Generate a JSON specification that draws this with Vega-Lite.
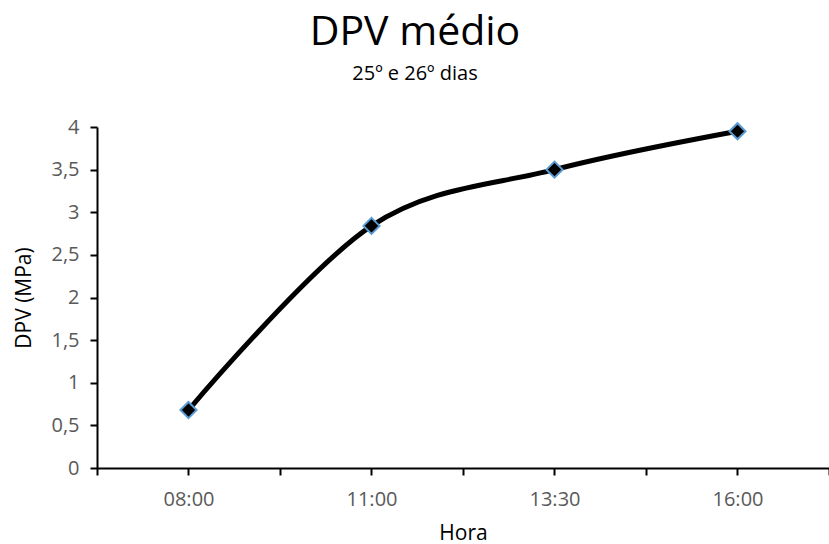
{
  "$schema": "https://vega.github.io/schema/vega-lite/v6.json",
  "autosize": {"type": "none"},
  "padding": {"left": 97, "top": 127, "right": 0, "bottom": 76},
  "width": 732,
  "height": 341,
  "background": "white",
  "title": {
    "text": "DPV médio",
    "subtitle": "25º e 26º dias",
    "anchor": "middle",
    "frame": "group",
    "dx": -48,
    "font": "Open Sans",
    "fontSize": 41,
    "fontWeight": "normal",
    "color": "black",
    "subtitleFont": "Open Sans",
    "subtitleFontSize": 20,
    "subtitleColor": "black",
    "subtitlePadding": 10,
    "offset": 32
  },
  "data": {
    "values": [
      {"hora": "08:00", "dpv": 0.68},
      {"hora": "11:00", "dpv": 2.84},
      {"hora": "13:30", "dpv": 3.5},
      {"hora": "16:00", "dpv": 3.95}
    ]
  },
  "encoding": {
    "x": {
      "field": "hora",
      "type": "ordinal",
      "sort": null,
      "scale": {"type": "band", "paddingInner": 0, "paddingOuter": 0}
    },
    "y": {
      "field": "dpv",
      "type": "quantitative",
      "scale": {"domain": [0, 4], "nice": false, "zero": true},
      "axis": {
        "values": [0, 0.5, 1, 1.5, 2, 2.5, 3, 3.5, 4],
        "labelExpr": "replace(toString(datum.value), '.', ',')",
        "title": "DPV (MPa)",
        "grid": false,
        "domainColor": "black",
        "domainWidth": 2,
        "tickColor": "black",
        "tickWidth": 2,
        "tickSize": 7,
        "labelFont": "Open Sans",
        "labelFontSize": 20,
        "labelColor": "#595959",
        "labelPadding": 11,
        "titleFont": "Open Sans",
        "titleFontSize": 21,
        "titleFontWeight": "normal",
        "titleColor": "black",
        "titlePadding": 16
      }
    }
  },
  "layer": [
    {
      "mark": {"type": "line", "interpolate": "cardinal", "tension": 0, "color": "black", "strokeWidth": 5},
      "encoding": {
        "x": {
          "field": "hora",
          "type": "ordinal",
          "sort": null,
          "axis": {
            "title": "Hora",
            "tickBand": "extent",
            "labelAngle": 0,
            "grid": false,
            "domainColor": "black",
            "domainWidth": 2,
            "tickColor": "black",
            "tickWidth": 2,
            "tickSize": 7,
            "labelFont": "Open Sans",
            "labelFontSize": 20,
            "labelColor": "#595959",
            "labelPadding": 14,
            "titleFont": "Open Sans",
            "titleFontSize": 21,
            "titleFontWeight": "normal",
            "titleColor": "black",
            "titlePadding": 13
          }
        }
      }
    },
    {
      "mark": {"type": "point", "shape": "diamond", "filled": true, "fill": "black", "stroke": "#5B9BD5", "strokeWidth": 2, "size": 260, "opacity": 1},
      "encoding": {
        "x": {
          "field": "hora",
          "type": "ordinal",
          "sort": null,
          "axis": {
            "orient": "bottom",
            "title": null,
            "labels": false,
            "domain": false,
            "grid": false,
            "tickColor": "black",
            "tickWidth": 2,
            "tickSize": 7
          }
        }
      }
    }
  ],
  "resolve": {"axis": {"x": "independent"}},
  "config": {"view": {"stroke": null}}
}
